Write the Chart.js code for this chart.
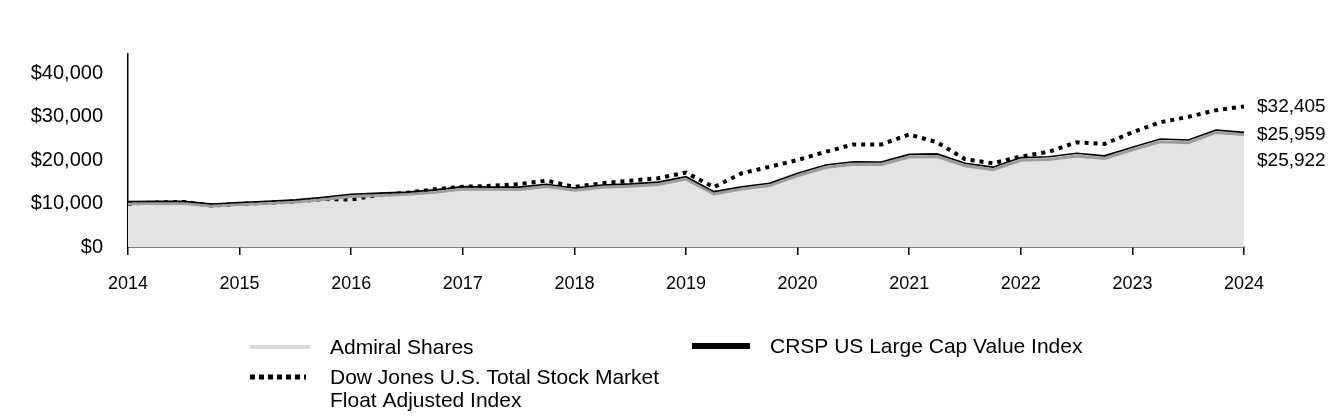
<!DOCTYPE html>
<html>
<head>
<meta charset="utf-8">
<script src="https://cdn.jsdelivr.net/npm/chart.js@4/dist/chart.umd.min.js"></script>
<style>
  html, body { margin: 0; padding: 0; background: #fff; }
  #wrap { width: 1344px; height: 420px; }
</style>
</head>
<body>
<div id="wrap"><canvas id="growth" width="1344" height="420"></canvas></div>
<script>
// quarter positions, in years
const xYears = [2014, 2014.25, 2014.5, 2014.75, 2015, 2015.25, 2015.5, 2015.75,
  2016, 2016.25, 2016.5, 2016.75, 2017, 2017.25, 2017.5, 2017.75,
  2018, 2018.25, 2018.5, 2018.75, 2019, 2019.25, 2019.5, 2019.75,
  2020, 2020.25, 2020.5, 2020.75, 2021, 2021.25, 2021.5, 2021.75,
  2022, 2022.25, 2022.5, 2022.75, 2023, 2023.25, 2023.5, 2023.75, 2024];

const admiralShares = [10000, 10090, 10030, 9430, 9780, 10080, 10370, 10970,
  11660, 11900, 12150, 12650, 13390, 13290, 13280, 13930,
  13080, 13770, 14020, 14410, 15650, 12220, 13360, 14150,
  16440, 18330, 19070, 19020, 20760, 20850, 18720, 17820,
  20010, 20200, 21000, 20400, 22390, 24280, 24030, 26420, 25922];

const crspIndex = [10000, 10100, 10050, 9450, 9800, 10100, 10400, 11000,
  11700, 11950, 12200, 12700, 13450, 13350, 13350, 14000,
  13150, 13850, 14100, 14500, 15750, 12300, 13450, 14250,
  16550, 18450, 19200, 19150, 20900, 21000, 18850, 17950,
  20150, 20350, 21150, 20550, 22550, 24450, 24200, 26500, 25959];

const dowJonesIndex = [10000, 10250, 10400, 9550, 9950, 10200, 10500, 11050,
  10950, 12000, 12500, 13300, 13900, 14100, 14500, 15300,
  13850, 14700, 15300, 15850, 17150, 13800, 17000, 18500,
  20050, 21950, 23650, 23650, 25950, 24150, 20250, 19300,
  20850, 21950, 24150, 23750, 26450, 28750, 30000, 31550, 32405];

const yTicks = [0, 10000, 20000, 30000, 40000];
const legendLabels = [
  ["Admiral Shares"],
  ["CRSP US Large Cap Value Index"],
  ["Dow Jones U.S. Total Stock Market", "Float Adjusted Index"]
];

const FONT = "'Liberation Sans', Arial, sans-serif";
const money = v => "$" + Math.round(v).toLocaleString("en-US");
const toPoints = vals => vals.map((v, i) => ({x: xYears[i], y: v}));

// nudge the black index line so it sits on top of the grey band
const lineShift = {
  id: "lineShift",
  beforeDatasetDraw(chart, args) {
    const ds = chart.data.datasets[args.index];
    chart.ctx.save();
    if (ds.shiftY) chart.ctx.translate(0, ds.shiftY);
  },
  afterDatasetDraw(chart) {
    chart.ctx.restore();
  }
};

// ending values at the right edge, spread so they don't overlap
const endLabels = {
  id: "endLabels",
  afterDatasetsDraw(chart) {
    const ctx = chart.ctx;
    const y = chart.scales.y;
    const items = chart.data.datasets.map(ds => {
      const last = ds.data[ds.data.length - 1].y;
      return {text: money(last), py: y.getPixelForValue(last)};
    }).sort((a, b) => a.py - b.py);
    for (let i = 1; i < items.length; i++) {
      if (items[i].py - items[i - 1].py < 26) items[i].py = items[i - 1].py + 26;
    }
    ctx.save();
    ctx.font = "19px " + FONT;
    ctx.fillStyle = "#000";
    ctx.textBaseline = "middle";
    ctx.textAlign = "left";
    items.forEach(it => ctx.fillText(it.text, chart.chartArea.right + 13, it.py));
    ctx.restore();
  }
};

// legend drawn under the axis, two columns
const bottomLegend = {
  id: "bottomLegend",
  afterDraw(chart) {
    const ctx = chart.ctx;
    const slots = [
      {x: 250, y: 347, len: 60, tx: 330, color: "#d9d9d9", width: 4, dash: []},
      {x: 692, y: 346, len: 58, tx: 770, color: "#000", width: 6, dash: []},
      {x: 250, y: 377, len: 56, tx: 330, color: "#000", width: 5, dash: [5, 4]}
    ];
    ctx.save();
    ctx.font = "21px " + FONT;
    ctx.fillStyle = "#000";
    ctx.textBaseline = "middle";
    slots.forEach((s, i) => {
      ctx.beginPath();
      ctx.setLineDash(s.dash);
      ctx.lineWidth = s.width;
      ctx.strokeStyle = s.color;
      ctx.moveTo(s.x, s.y);
      ctx.lineTo(s.x + s.len, s.y);
      ctx.stroke();
      legendLabels[i].forEach((t, j) => ctx.fillText(t, s.tx, s.y + 1 + j * 23));
    });
    ctx.restore();
  }
};

new Chart("growth", {
  type: "line",
  data: {
    datasets: [
      {
        label: "CRSP US Large Cap Value Index",
        data: toPoints(crspIndex),
        borderColor: "#000",
        borderWidth: 1.6,
        fill: false,
        order: 0,
        shiftY: -2
      },
      {
        label: "Admiral Shares",
        data: toPoints(admiralShares),
        borderColor: "#9d9d9d",
        borderWidth: 3,
        backgroundColor: "#e3e3e3",
        fill: "origin",
        order: 1
      },
      {
        label: "Dow Jones U.S. Total Stock Market Float Adjusted Index",
        data: toPoints(dowJonesIndex),
        borderColor: "#000",
        borderWidth: 4,
        borderDash: [4, 5],
        fill: false,
        order: 2
      }
    ]
  },
  options: {
    responsive: false,
    animation: false,
    devicePixelRatio: 1,
    layout: {padding: {top: 54, right: 100, left: 0, bottom: 0}},
    elements: {point: {radius: 0}, line: {tension: 0}},
    plugins: {
      legend: {display: false},
      tooltip: {enabled: false},
      filler: {drawTime: "beforeDatasetsDraw"}
    },
    scales: {
      x: {
        type: "linear",
        min: 2014,
        max: 2024,
        afterFit: s => { s.height = 173; },
        ticks: {
          stepSize: 1,
          color: "#000",
          font: {family: FONT, size: 18},
          padding: 18,
          maxRotation: 0,
          callback: v => String(v)
        },
        grid: {drawOnChartArea: false, drawTicks: true, tickLength: 8, color: "#000", lineWidth: 1.5},
        border: {color: "#000", width: 1.5}
      },
      y: {
        min: 0,
        max: 44500,
        afterFit: s => { s.width = 128; },
        afterBuildTicks: s => { s.ticks = yTicks.map(v => ({value: v})); },
        ticks: {
          color: "#000",
          font: {family: FONT, size: 20},
          padding: 25,
          callback: v => money(v)
        },
        grid: {display: false, drawTicks: false},
        border: {color: "#000", width: 1.5}
      }
    }
  },
  plugins: [lineShift, endLabels, bottomLegend]
});
</script>
</body>
</html>
